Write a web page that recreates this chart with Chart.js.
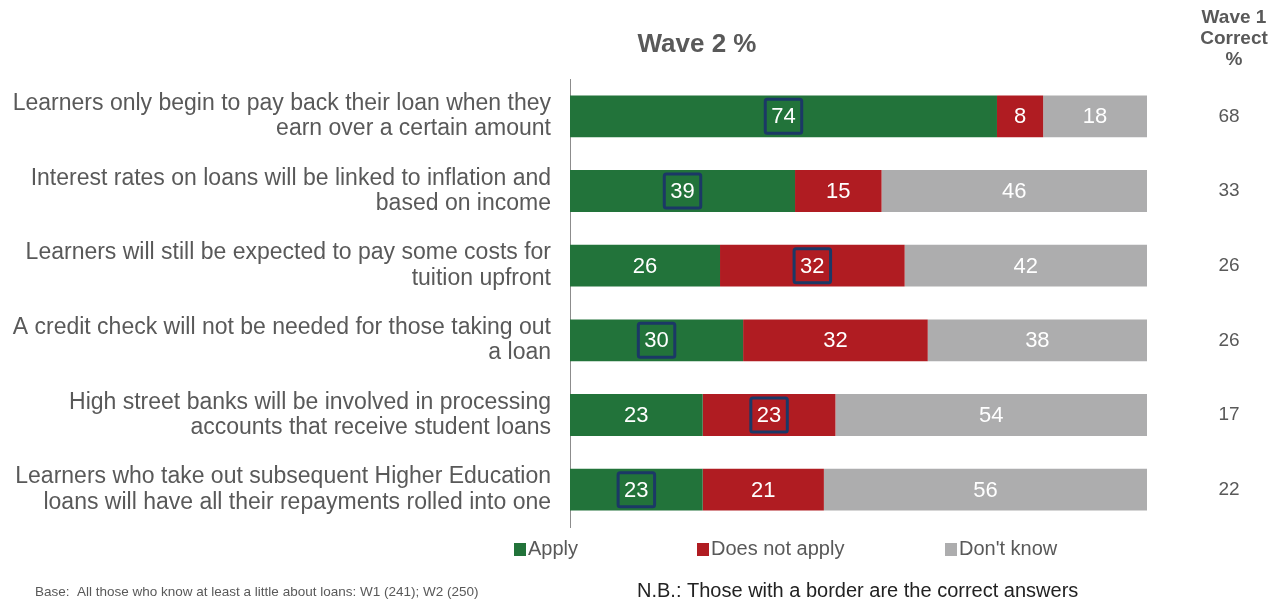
<!DOCTYPE html>
<html>
<head>
	<title>Student loans awareness - Wave 2</title>
	<script src="https://cdn.jsdelivr.net/npm/chart.js"></script>
	<style>
		html, body { margin: 0; padding: 0; background: #fff; }
		#wrap { width: 1280px; height: 602px; position: relative; }
	</style>
</head>
<body>
	<div id="wrap"><canvas id="loanChart" width="1280" height="602"></canvas></div>
	<script>
		var statements = [
			['Learners only begin to pay back their loan when they', 'earn over a certain amount'],
			['Interest rates on loans will be linked to inflation and', 'based on income'],
			['Learners will still be expected to pay some costs for', 'tuition upfront'],
			['A credit check will not be needed for those taking out', 'a loan'],
			['High street banks will be involved in processing', 'accounts that receive student loans'],
			['Learners who take out subsequent Higher Education', 'loans will have all their repayments rolled into one']
		];
		var apply = [74, 39, 26, 30, 23, 23];
		var notApply = [8, 15, 32, 32, 23, 21];
		var dontKnow = [18, 46, 42, 38, 54, 56];
		// dataset index of the correct answer for each statement
		var correctAnswer = [0, 0, 1, 0, 1, 0];
		var wave1Correct = [68, 33, 26, 26, 17, 22];

		var FONT = '"Liberation Sans", Arial, sans-serif';
		var GREY_TEXT = '#595959';

		var overlay = {
			id: 'overlay',
			afterDatasetsDraw: function (chart) {
				var ctx = chart.ctx;
				ctx.save();
				ctx.textBaseline = 'middle';
				ctx.textAlign = 'center';
				ctx.font = '22px ' + FONT;

				// value labels + correct answer boxes
				chart.data.datasets.forEach(function (ds, di) {
					var meta = chart.getDatasetMeta(di);
					meta.data.forEach(function (bar, i) {
						var c = bar.getCenterPoint();
						var txt = String(ds.data[i]);
						ctx.fillStyle = '#ffffff';
						ctx.fillText(txt, c.x, c.y + 1);
						if (correctAnswer[i] === di) {
							var w = ctx.measureText(txt).width + 12;
							ctx.strokeStyle = '#1b3866';
							ctx.lineWidth = 3;
							ctx.beginPath();
							ctx.roundRect(c.x - w / 2, c.y - 17, w, 34, 2);
							ctx.stroke();
						}
					});
				});

				// wave 1 column
				var y = chart.scales.y;
				ctx.fillStyle = GREY_TEXT;
				ctx.font = '19px ' + FONT;
				wave1Correct.forEach(function (v, i) {
					ctx.fillText(String(v), 1229, y.getPixelForValue(i));
				});
				ctx.font = 'bold 19px ' + FONT;
				['Wave 1', 'Correct', '%'].forEach(function (t, i) {
					ctx.fillText(t, 1234, 18 + i * 21);
				});

				// title
				ctx.font = 'bold 26px ' + FONT;
				ctx.fillText('Wave 2 %', 697, 45);

				// legend
				ctx.textAlign = 'left';
				ctx.font = '20px ' + FONT;
				var legendX = [514, 697, 945];
				chart.data.datasets.forEach(function (ds, di) {
					ctx.fillStyle = ds.backgroundColor;
					ctx.fillRect(legendX[di], 543, 12, 13);
					ctx.fillStyle = GREY_TEXT;
					ctx.fillText(ds.label, legendX[di] + 14, 549);
				});

				// footnotes
				ctx.font = '13.5px ' + FONT;
				ctx.fillStyle = GREY_TEXT;
				ctx.fillText('Base:  All those who know at least a little about loans: W1 (241); W2 (250)', 35, 592);
				ctx.font = '20px ' + FONT;
				ctx.fillStyle = '#222222';
				ctx.fillText('N.B.: Those with a border are the correct answers', 637, 591);
				ctx.restore();
			}
		};

		var ctx = document.getElementById('loanChart').getContext('2d');
		var chart = new Chart(ctx, {
			type: 'bar',
			data: {
				labels: statements,
				datasets: [
					{ label: 'Apply', data: apply, backgroundColor: '#22733a' },
					{ label: 'Does not apply', data: notApply, backgroundColor: '#b01c22' },
					{ label: "Don't know", data: dontKnow, backgroundColor: '#adadae' }
				]
			},
			options: {
				indexAxis: 'y',
				responsive: false,
				animation: false,
				categoryPercentage: 1,
				barPercentage: 0.56,
				layout: { padding: { top: 79, right: 133, bottom: 75, left: 0 } },
				plugins: {
					legend: { display: false },
					tooltip: { enabled: false }
				},
				scales: {
					x: {
						stacked: true,
						min: 0,
						max: 100,
						display: false
					},
					y: {
						stacked: true,
						grid: { display: false, drawTicks: false },
						border: { display: true, color: '#8c8c8c', width: 1 },
						afterFit: function (s) { s.width = 570; },
						ticks: {
							padding: 19,
							color: GREY_TEXT,
							font: { family: FONT, size: 23, lineHeight: 1.1 }
						}
					}
				}
			},
			plugins: [overlay]
		});
	</script>
</body>
</html>
